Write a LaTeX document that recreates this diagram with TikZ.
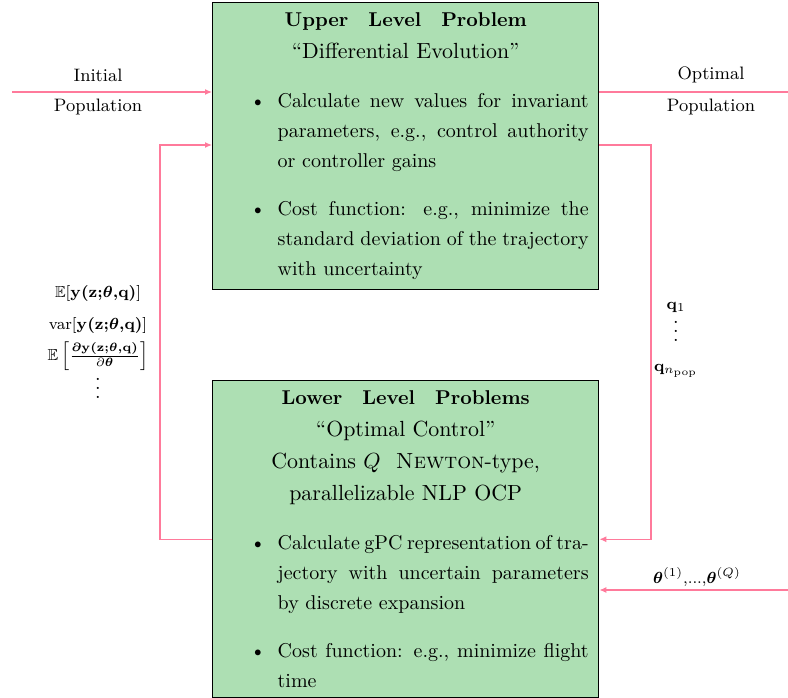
\documentclass[tikz,border=0pt]{standalone}
\usepackage{amsmath,amssymb}
\usetikzlibrary{arrows.meta}

\definecolor{boxgreen}{RGB}{173,223,179}
\definecolor{flowpink}{RGB}{255,122,155}

% bullet list used inside the two problem boxes
\newenvironment{boxlist}{%
  \begin{list}{\textbullet}{%
    \setlength{\leftmargin}{27.5pt}%
    \setlength{\labelsep}{6pt}%
    \setlength{\labelwidth}{21.5pt}%
    \setlength{\topsep}{9.5pt}%
    \setlength{\partopsep}{0pt}%
    \setlength{\parsep}{0pt}%
    \setlength{\itemsep}{9pt}}}%
  {\end{list}}

% centred heading block of a box: bold title, then subtitle lines
\newcommand{\boxhead}[2]{%
  {\centering\fontsize{10}{16}\selectfont\textbf{#1}\\
   \fontsize{10.95}{16}\selectfont #2\par}}

% one tightly set, full-width line inside a list item
\newcommand{\tightline}[1]{%
  \leavevmode\hbox to\linewidth{\spaceskip=1pt plus 1fil\relax #1}\newline}

% vertical ellipsis without the extra space above it
\newcommand{\compactvdots}{%
  \vbox{\baselineskip4.5pt\lineskiplimit0pt\hbox{.}\hbox{.}\hbox{.}}}

\tikzset{
  probbox/.style={draw=black, line width=0.7pt, fill=boxgreen, inner sep=5pt,
    minimum width=193pt, anchor=north west,
    font=\fontsize{10}{15}\selectfont},
  flow/.style={draw=flowpink, line width=0.6pt},
  flowarr/.style={flow, -{Latex[length=3.5pt,width=3pt]}},
  sidelabel/.style={font=\small, inner sep=1pt},
  mathlabel/.style={font=\footnotesize, inner sep=1pt},
  dotlabel/.style={font=\normalsize, inner sep=0pt}
}

\begin{document}
\begin{tikzpicture}[x=0.5pt, y=-0.5pt]
\useasboundingbox (0,0) rectangle (788,697);

% upper level problem
\node[probbox, minimum height=142.5pt] (up) at (212,2) {%
  \begin{minipage}{183pt}
  \boxhead{Upper\hspace{1em}Level\hspace{1em}Problem}
    {``Differential Evolution''}
  \begin{boxlist}
  \item Calculate new values for invariant parameters, e.g., control authority or controller gains
  \item Cost function: e.g., minimize the standard deviation of the trajectory with uncertainty
  \end{boxlist}
  \end{minipage}};

% lower level problems
\node[probbox, minimum height=157.5pt] (low) at (212,380) {%
  \begin{minipage}{183pt}
  \boxhead{Lower\hspace{1em}Level\hspace{1em}Problems}
    {``Optimal Control''\\
     Contains $Q$\hspace*{4pt} \textsc{Newton}-type,\\
     parallelizable NLP OCP}
  \begin{boxlist}
  \item \tightline{Calculate gPC representation of tra-}%
    jectory with uncertain parameters by discrete expansion
  \item Cost function: e.g., minimize flight time
  \end{boxlist}
  \end{minipage}};

% population in and out
\coordinate (initS) at (12,92);
\coordinate (optE) at (788,92);
\draw[flowarr] (initS) -- (up.west |- initS);
\draw[flow] (up.east |- optE) -- (optE);
\node[sidelabel] (initT) at (98,75) {Initial};
\node[sidelabel] (initB) at (98,107) {Population};
\node[sidelabel] (optT) at (711,75) {Optimal};
\node[sidelabel] (optB) at (711,107) {Population};

% feedback loops between the levels
\coordinate (fbL) at (160,145);
\coordinate (fbR) at (651,145);
\draw[flowarr] (low.west) -| (fbL) -- (up.west |- fbL);
\draw[flowarr] (up.east |- fbR) -- (fbR) -- (fbR |- low.east) -- (low.east);

% uncertain parameter samples
\coordinate (thS) at (788,590);
\draw[flowarr] (thS) -- (low.east |- thS);
\node[mathlabel] (thL) at (697,577)
  {$\boldsymbol{\theta}^{(1)}{,}...{,}\boldsymbol{\theta}^{(Q)}$};

% statistics returned to the upper level
\node[mathlabel] (mean) at (98,293)
  {$\mathbb{E}[\boldsymbol{\mathbf{y}(\mathbf{z}{;}\theta{,}\mathbf{q})}]$};
\node[mathlabel] (vari) at (98,325)
  {$\mathrm{var}[\boldsymbol{\mathbf{y}(\mathbf{z}{;}\theta{,}\mathbf{q})}]$};
\node[mathlabel] (grad) at (98,356)
  {$\mathbb{E}\left[\tfrac{\boldsymbol{\partial\mathbf{y}(\mathbf{z}{;}\theta{,}\mathbf{q})}}{\partial\boldsymbol{\theta}}\right]$};
\node[dotlabel] (ldots) at (98,388) {\compactvdots};

% candidates handed to the lower level
\node[mathlabel] (q1) at (676,307) {$\mathbf{q}_1$};
\node[dotlabel] (qdots) at (676,331) {\compactvdots};
\node[mathlabel] (qn) at (676,371) {$\mathbf{q}_{n_{\text{pop}}}$};
\end{tikzpicture}
\end{document}
